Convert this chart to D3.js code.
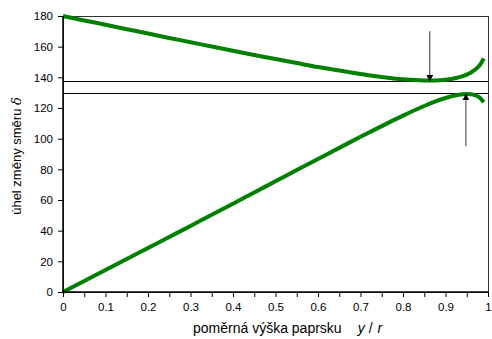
<!DOCTYPE html>
<html>
<head>
<meta charset="utf-8">
<style>
body { margin: 0; background: #fff; }
svg { font-family: "Liberation Sans", Arial, sans-serif; }
.axis path, .axis line { stroke: #000; }
.axis text { font-size: 11.5px; fill: #000; }
.curve { fill: none; stroke: #008000; stroke-width: 4; stroke-linejoin: round; }
.ref { stroke: #000; stroke-width: 1; shape-rendering: crispEdges; }
.arrow { stroke: #555; stroke-width: 1.2; }
</style>
</head>
<body>
<svg id="chart" width="492" height="339"></svg>
<script src="https://cdn.jsdelivr.net/npm/d3@7"></script>
<script>
// relative ray height y/r
var yr = [0, 0.05, 0.1, 0.15, 0.2, 0.25, 0.3, 0.35, 0.4, 0.45, 0.5, 0.55, 0.6, 0.65,
          0.7, 0.75, 0.8, 0.85, 0.875, 0.9, 0.925, 0.95, 0.96, 0.97, 0.98, 0.99];
// upper curve (one internal reflection)
var upper = [180, 177.1, 174.3, 171.4, 168.6, 165.7, 162.9, 160.1, 157.3, 154.6, 151.9,
             149.3, 146.7, 144.4, 142.2, 140.2, 138.7, 137.95, 138.0, 138.45, 139.6,
             141.8, 143.2, 145.1, 147.7, 152.3];
// lower curve (two internal reflections)
var lower = [0, 7.2, 14.3, 21.5, 28.7, 35.9, 43.1, 50.4, 57.6, 64.9, 72.2, 79.5, 86.8,
             94.0, 101.2, 108.2, 115.0, 121.3, 124.1, 126.5, 128.3, 129.1, 128.95, 128.3,
             126.9, 123.8];
var refLines = [137.2, 129.5];
// arrows: [x, from, to]
var arrows = [[0.863, 170, 137.2], [0.948, 95, 129.5]];
var xTicks = [0, 0.1, 0.2, 0.3, 0.4, 0.5, 0.6, 0.7, 0.8, 0.9, 1];
var xMinor = [0.05, 0.15, 0.25, 0.35, 0.45, 0.55, 0.65, 0.75, 0.85, 0.95];
var yTicks = [0, 20, 40, 60, 80, 100, 120, 140, 160, 180];

var svg = d3.select("#chart");
var margin = {top: 16, right: 4, bottom: 47, left: 63};
var width = +svg.attr("width") - margin.left - margin.right;
var height = +svg.attr("height") - margin.top - margin.bottom;

var x = d3.scaleLinear().domain([0, 1]).range([0, width]);
var y = d3.scaleLinear().domain([0, 180]).range([height, 0]);

var g = svg.append("g")
    .attr("transform", "translate(" + margin.left + "," + margin.top + ")");

var defs = svg.append("defs");
defs.append("marker")
    .attr("id", "head")
    .attr("viewBox", "0 0 10 10")
    .attr("refX", 10).attr("refY", 5)
    .attr("markerWidth", 7).attr("markerHeight", 7)
    .attr("markerUnits", "userSpaceOnUse")
    .attr("orient", "auto")
  .append("path")
    .attr("d", "M0,0L10,5L0,10Z")
    .attr("fill", "#000");

// frame
g.append("rect")
    .attr("width", width).attr("height", height)
    .attr("fill", "none").attr("stroke", "#333")
    .attr("shape-rendering", "crispEdges");

g.selectAll(".ref").data(refLines).enter().append("line")
    .attr("class", "ref")
    .attr("x1", 0).attr("x2", width)
    .attr("y1", function(d) { return y(d); })
    .attr("y2", function(d) { return y(d); });

var line = d3.line()
    .x(function(d, i) { return x(yr[i]); })
    .y(function(d) { return y(d); })
    .curve(d3.curveMonotoneX);

g.append("path").datum(upper).attr("class", "curve").attr("d", line);
g.append("path").datum(lower).attr("class", "curve").attr("d", line);

g.selectAll(".arrow").data(arrows).enter().append("line")
    .attr("class", "arrow")
    .attr("x1", function(d) { return x(d[0]); })
    .attr("x2", function(d) { return x(d[0]); })
    .attr("y1", function(d) { return y(d[1]); })
    .attr("y2", function(d) { return y(d[2]); })
    .attr("marker-end", "url(#head)");

// axes
var xAxis = g.append("g").attr("class", "axis")
    .attr("transform", "translate(0," + height + ")")
    .call(d3.axisBottom(x).tickValues(xTicks).tickSize(5).tickPadding(6)
      .tickFormat(function(d) { return d === 0 || d === 1 ? d3.format("d")(d) : d3.format(".1f")(d); }));
xAxis.select(".domain").remove();
g.append("g").attr("class", "axis")
    .attr("transform", "translate(0," + height + ")")
    .call(d3.axisBottom(x).tickValues(xMinor).tickSize(5).tickFormat(""))
    .select(".domain").remove();

var yAxis = g.append("g").attr("class", "axis")
    .call(d3.axisLeft(y).tickValues(yTicks).tickSize(5).tickPadding(5));
yAxis.select(".domain").remove();

g.append("line").attr("x1", 0).attr("x2", 0).attr("y1", 0).attr("y2", height)
    .attr("stroke", "#000").attr("stroke-width", 1.5);
g.append("line").attr("x1", 0).attr("x2", width).attr("y1", height).attr("y2", height)
    .attr("stroke", "#000").attr("stroke-width", 1.5);

// axis titles
var xt = svg.append("text")
    .attr("x", 193)
    .attr("y", 333)
    .style("font-size", "14px");
xt.append("tspan").text("poměrná výška paprsku");
xt.append("tspan").attr("dx", 16).style("font-style", "italic").text("y");
xt.append("tspan").attr("dx", 4).text("/");
xt.append("tspan").attr("dx", 5).style("font-style", "italic").text("r");

var yt = svg.append("text")
    .attr("transform", "translate(21," + (margin.top + height / 2 + 2) + ") rotate(-90)")
    .attr("text-anchor", "middle")
    .style("font-size", "13px");
yt.append("tspan").text("úhel změny směru ");
yt.append("tspan").style("font-style", "italic").style("font-family", "'DejaVu Serif', serif").text("δ");
</script>
</body>
</html>
